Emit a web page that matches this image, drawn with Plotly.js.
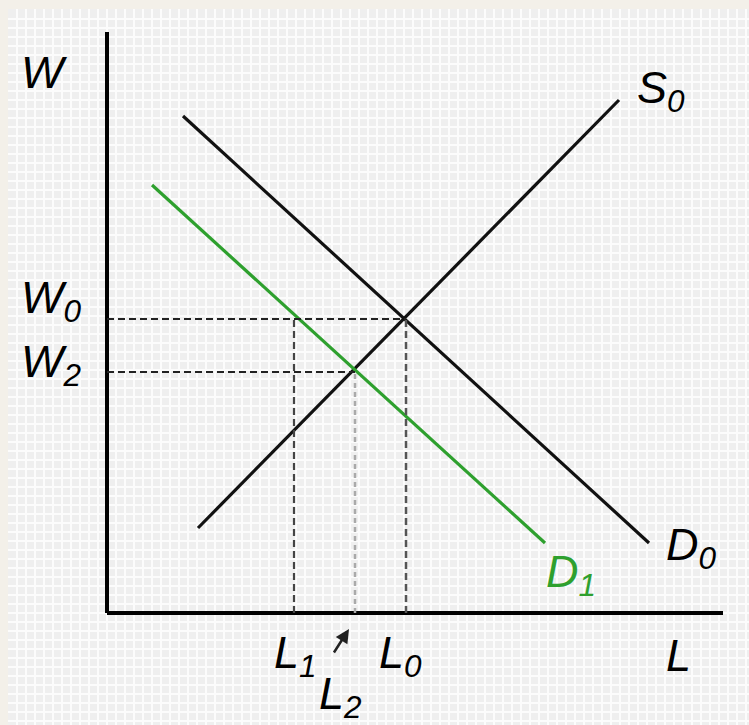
<!DOCTYPE html>
<html><head><meta charset="utf-8">
<script src="https://cdn.plot.ly/plotly-3.0.1.min.js"></script>
<style>body{margin:0;padding:0;}#chart{width:749px;height:725px;}</style>
</head><body><div id="chart"></div>
<script>
// Curve end points (L, W), origin at the axes corner
const s0L = [91, 512];
const s0W = [85, 513];
const d0L = [76, 542];
const d0W = [497, 70];
const d1L = [45, 438];
const d1W = [428, 70];
// Equilibrium readings
const W0 = 294, W2 = 241;
const L0 = 299, L1 = 187, L2 = 248;
// Axis extents
const axisLmax = 616, axisWmax = 581;

const black = '#111111', green = '#2ea02e';
const traces = [
  {x: s0L, y: s0W, mode: 'lines', line: {color: black, width: 3.2}, hoverinfo: 'skip'},
  {x: d0L, y: d0W, mode: 'lines', line: {color: black, width: 3.2}, hoverinfo: 'skip'},
  {x: d1L, y: d1W, mode: 'lines', line: {color: green, width: 3.2}, hoverinfo: 'skip'}
];

const shapes = [
  {type: 'line', x0: 0, x1: 0, y0: 0, y1: axisWmax, line: {color: '#000', width: 4}},
  {type: 'line', x0: 0, x1: axisLmax, y0: 0, y1: 0, line: {color: '#000', width: 4}},
  {type: 'line', x0: 0, x1: L0, y0: W0, y1: W0, line: {color: '#222', width: 2, dash: '7px,4px'}},
  {type: 'line', x0: 0, x1: L2, y0: W2, y1: W2, line: {color: '#222', width: 2, dash: '7px,4px'}},
  {type: 'line', x0: L1, x1: L1, y0: 0, y1: W0, line: {color: '#444', width: 2.2, dash: '7px,4px'}},
  {type: 'line', x0: L0, x1: L0, y0: 0, y1: W0, line: {color: '#555', width: 2.5, dash: '7px,4px'}},
  {type: 'line', x0: L2, x1: L2, y0: 0, y1: W2, line: {color: '#aaaaaa', width: 2.5, dash: '5px,4px'}}
];

const fnt = {family: 'Liberation Sans, Arial, sans-serif', size: 45, color: '#000'};
function lab(txt, x, y, color) {
  return {text: '<i>' + txt + '</i>', x: x, y: y, xref: 'x', yref: 'y', showarrow: false,
    xanchor: 'left', yanchor: 'middle', font: Object.assign({}, fnt, color ? {color: color} : {})};
}
const annotations = [
  lab('W', -88, 541),
  lab('S<sub>0</sub>', 528, 523),
  lab('W<sub>0</sub>', -88, 313),
  lab('W<sub>2</sub>', -88, 249),
  lab('D<sub>0</sub>', 557, 66),
  lab('D<sub>1</sub>', 437, 39, green),
  lab('L', 557, -42),
  lab('L<sub>1</sub>', 165, -42),
  lab('L<sub>0</sub>', 270, -42),
  lab('L<sub>2</sub>', 210, -83),
  {x: 242, y: -16, xref: 'x', yref: 'y', text: '', showarrow: true, ax: -16, ay: 25,
   arrowhead: 2, arrowsize: 1.1, arrowwidth: 2.5, arrowcolor: '#222'}
];

const layout = {
  width: 749, height: 725,
  margin: {l: 8, r: 0, t: 9, b: 0, pad: 0},
  paper_bgcolor: '#f3f0e9',
  plot_bgcolor: '#efefef',
  showlegend: false,
  xaxis: {range: [-99, 642], showgrid: true, gridcolor: '#fcfcfc', gridwidth: 2, dtick: 9, tick0: 0,
          zeroline: false, showticklabels: false, ticks: '', fixedrange: true},
  yaxis: {range: [-112, 604], showgrid: true, gridcolor: '#fcfcfc', gridwidth: 2, dtick: 9, tick0: 0,
          zeroline: false, showticklabels: false, ticks: '', fixedrange: true},
  shapes: shapes,
  annotations: annotations
};
Plotly.newPlot('chart', traces, layout, {displayModeBar: false, staticPlot: true});
</script></body></html>
